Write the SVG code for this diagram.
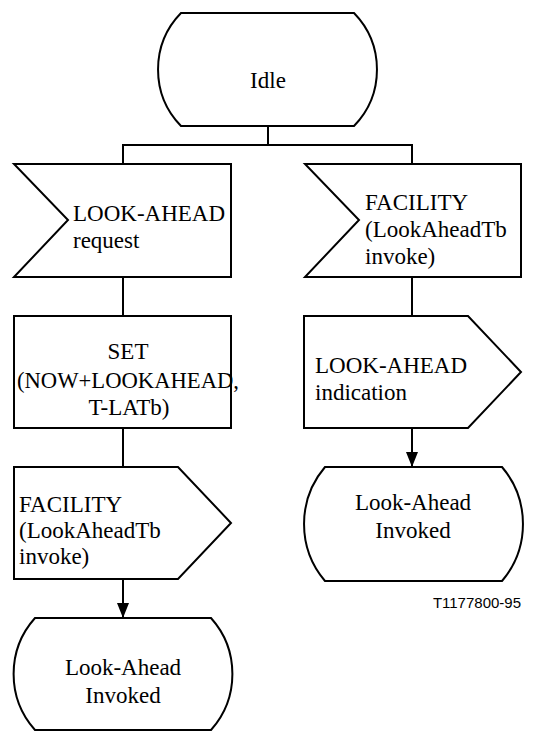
<svg xmlns="http://www.w3.org/2000/svg" width="545" height="731" viewBox="0 0 545 731">
<style>
.s{fill:#fff;stroke:#000;stroke-width:2;stroke-linejoin:miter}
.c{fill:none;stroke:#000;stroke-width:2}
.t{font-family:'Liberation Serif','Times New Roman','DejaVu Serif',serif;font-size:23px;fill:#000}
.m{text-anchor:middle}
.lbl{font-family:'Liberation Sans',Arial,sans-serif;font-size:15px;fill:#000;text-anchor:end}
</style>
<defs>
<marker id="arr" viewBox="0 0 15 12" refX="15" refY="6" markerWidth="15" markerHeight="12" markerUnits="userSpaceOnUse" orient="auto">
<path d="M0,0 L15,6 L0,12 z" fill="#000"/>
</marker>
</defs>
<rect width="545" height="731" fill="#fff"/>
<g id="connectors">
<path class="c" d="M268,126 V145 M123,145 H412 M123,144 V164 M412,144 V164"/>
<path class="c" d="M123,277 V316"/>
<path class="c" d="M123,428 V467"/>
<path class="c" d="M123,579 V618" marker-end="url(#arr)"/>
<path class="c" d="M412,277 V316"/>
<path class="c" d="M412,428 V467" marker-end="url(#arr)"/>
</g>
<g id="idle">
<path class="s" d="M181,13 H354 A81,81 0 0 1 354,126 H181 A81,81 0 0 1 181,13 Z"/>
<text class="t m" x="268" y="88">Idle</text>
</g>
<g id="in-lookahead-request">
<path class="s" d="M14,164 H231 V277 H14 L68,220 Z"/>
<text class="t" x="73" y="221">LOOK-AHEAD</text>
<text class="t" x="73" y="248">request</text>
</g>
<g id="in-facility">
<path class="s" d="M305,164 H521 V277 H305 L359,220 Z"/>
<text class="t" x="365" y="210">FACILITY</text>
<text class="t" x="365" y="237">(LookAheadTb</text>
<text class="t" x="365" y="264">invoke)</text>
</g>
<g id="set-timer">
<rect class="s" x="14" y="316" width="217" height="112"/>
<text class="t m" x="128" y="359">SET</text>
<text class="t" x="17" y="388" textLength="222" lengthAdjust="spacingAndGlyphs">(NOW+LOOKAHEAD,</text>
<text class="t m" x="129" y="415">T-LATb)</text>
</g>
<g id="out-lookahead-indication">
<path class="s" d="M304,316 H468 L521,372 L468,428 H304 Z"/>
<text class="t" x="315" y="373">LOOK-AHEAD</text>
<text class="t" x="315" y="400">indication</text>
</g>
<g id="out-facility">
<path class="s" d="M14,467 H178 L231,523 L178,579 H14 Z"/>
<text class="t" x="19" y="512">FACILITY</text>
<text class="t" x="19" y="538">(LookAheadTb</text>
<text class="t" x="19" y="564">invoke)</text>
</g>
<g id="state-right">
<path class="s" d="M325,467 H502 A88,88 0 0 1 502,581 H325 A88,88 0 0 1 325,467 Z"/>
<text class="t m" x="413" y="510">Look-Ahead</text>
<text class="t m" x="413" y="538">Invoked</text>
</g>
<g id="state-left">
<path class="s" d="M35,618 H211 A84,84 0 0 1 211,730 H35 A84,84 0 0 1 35,618 Z"/>
<text class="t m" x="123" y="675">Look-Ahead</text>
<text class="t m" x="123" y="703">Invoked</text>
</g>
<text class="lbl" x="521" y="608">T1177800-95</text>
</svg>
